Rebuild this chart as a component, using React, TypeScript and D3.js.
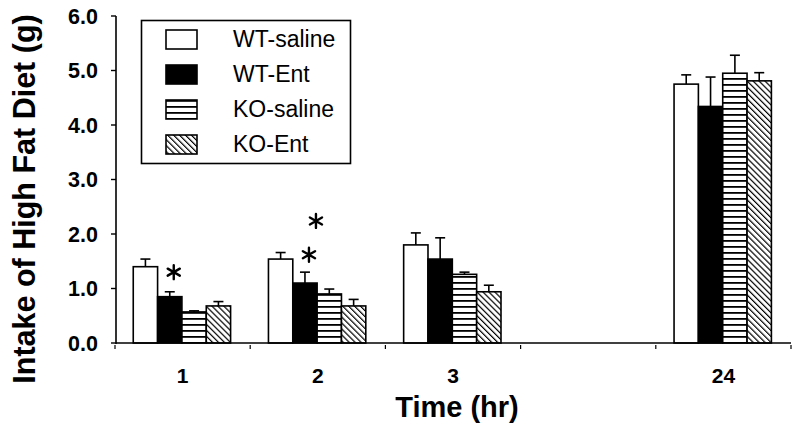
import React from "react";
import * as d3 from "d3";

const slots = ["1", "2", "3", "", "24"];
const groups = ["1", "2", "3", "24"];
const series = ["WT-saline", "WT-Ent", "KO-saline", "KO-Ent"];
const means: number[][] = [
  [1.4, 0.85, 0.57, 0.68],
  [1.54, 1.1, 0.9, 0.68],
  [1.8, 1.54, 1.26, 0.94],
  [4.75, 4.34, 4.95, 4.81],
];
const errTops: number[][] = [
  [1.54, 0.94, 0.59, 0.76],
  [1.66, 1.3, 0.99, 0.8],
  [2.02, 1.93, 1.3, 1.06],
  [4.92, 4.88, 5.28, 4.96],
];
const yTicks = [0, 1, 2, 3, 4, 5, 6];
const stars = [
  { group: "1", s: 1, value: 1.3, dx: 4 },
  { group: "2", s: 1, value: 1.62, dx: 4 },
  { group: "2", s: 1, value: 2.24, dx: 11 },
];

const W = 800;
const H = 438;
const x0 = 116;
const x1 = 791;
const yBase = 343;
const yTop = 16;

export default function App() {
  const xs = d3.scaleBand<string>().domain(slots.map((_, i) => String(i))).range([x0 - 1, x1]).padding(0);
  const bw = xs.bandwidth();
  const xIn = d3.scaleBand<string>().domain(series).range([bw * 0.135, bw * 0.855]).padding(0);
  const y = d3.scaleLinear().domain([0, 6]).range([yBase, yTop]);
  const slotOf = (g: string) => String(slots.indexOf(g));
  const fills = ["#fff", "#000", "url(#hstripe)", "url(#dstripe)"];
  const font = "'Liberation Sans', Arial, sans-serif";

  const starPath = (cx: number, cy: number, r: number) => {
    let p = "";
    for (let k = 0; k < 3; k++) {
      const a = (Math.PI / 3) * k + Math.PI / 2;
      p += `M${cx + r * Math.cos(a)},${cy + r * Math.sin(a)}L${cx - r * Math.cos(a)},${cy - r * Math.sin(a)}`;
    }
    return p;
  };

  const boundaries = d3.range(slots.length + 1).map((i) => x0 - 1 + i * bw);

  return (
    <svg width={W} height={H} style={{ display: "block", position: "absolute", left: 0, top: 0 }}>
      <defs>
        <pattern id="hstripe" patternUnits="userSpaceOnUse" width="8" height="6">
          <rect width="8" height="6" fill="#fff" />
          <rect y="0" width="8" height="1.8" fill="#000" />
        </pattern>
        <pattern id="dstripe" patternUnits="userSpaceOnUse" width="4.2" height="4.2" patternTransform="rotate(-45)">
          <rect width="4.2" height="4.2" fill="#fff" />
          <rect x="0" width="1.2" height="4.2" fill="#000" />
        </pattern>
      </defs>
      <rect width={W} height={H} fill="#fff" />

      {groups.map((g, gi) =>
        series.map((s, si) => {
          const bx = (xs(slotOf(g)) ?? 0) + (xIn(s) ?? 0);
          const top = y(means[gi][si]);
          const cx = bx + xIn.bandwidth() / 2;
          const et = y(errTops[gi][si]);
          return (
            <g key={g + s}>
              <line x1={cx} x2={cx} y1={top} y2={et} stroke="#000" strokeWidth={1.6} />
              <line x1={cx - 5} x2={cx + 5} y1={et} y2={et} stroke="#000" strokeWidth={1.6} />
              <rect x={bx} y={top} width={xIn.bandwidth()} height={yBase - top} fill={fills[si]} stroke="#000" strokeWidth={1.6} />
            </g>
          );
        })
      )}

      {stars.map((st, i) => {
        const bx = (xs(slotOf(st.group)) ?? 0) + (xIn(series[st.s]) ?? 0) + xIn.bandwidth() / 2;
        return <path key={i} d={starPath(bx + st.dx, y(st.value), 7)} stroke="#000" strokeWidth={2.4} strokeLinecap="round" />;
      })}

      <line x1={x0} x2={x0} y1={yTop} y2={yBase + 1} stroke="#000" strokeWidth={1.6} />
      {yTicks.map((t) => (
        <g key={t}>
          <line x1={x0 - 5} x2={x0} y1={y(t)} y2={y(t)} stroke="#000" strokeWidth={1.4} />
          <text x={98} y={y(t)} dy="0.36em" textAnchor="end" fontFamily={font} fontWeight="bold" fontSize={21.5} fill="#000">
            {t.toFixed(1)}
          </text>
        </g>
      ))}

      <line x1={x0} x2={x1} y1={yBase} y2={yBase} stroke="#000" strokeWidth={1.6} />
      {boundaries.map((b, i) => (
        <line key={i} x1={b} x2={b} y1={yBase + 2} y2={yBase + 6} stroke="#000" strokeWidth={1.2} />
      ))}
      {slots.map((s, i) =>
        s ? (
          <text key={i} x={(xs(String(i)) ?? 0) + bw / 2} y={383} textAnchor="middle" fontFamily={font} fontWeight="bold" fontSize={21} fill="#000">
            {s}
          </text>
        ) : null
      )}
      <text x={457} y={417} textAnchor="middle" fontFamily={font} fontWeight="bold" fontSize={29} fill="#000">
        Time (hr)
      </text>
      <text transform={`translate(35,199) rotate(-90)`} textAnchor="middle" fontFamily={font} fontWeight="bold" fontSize={30.5} fill="#000">
        Intake of High Fat Diet (g)
      </text>

      <rect x={141.5} y={20.5} width={209} height={143} fill="#fff" stroke="#000" strokeWidth={1.6} />
      {series.map((s, i) => (
        <g key={s} transform={`translate(0,${i * 35})`}>
          <rect x={166} y={30} width={31} height={19} fill={fills[i]} stroke="#000" strokeWidth={1.6} />
          <text x={233} y={46.5} fontFamily={font} fontSize={23} fill="#000">
            {s}
          </text>
        </g>
      ))}
    </svg>
  );
}
